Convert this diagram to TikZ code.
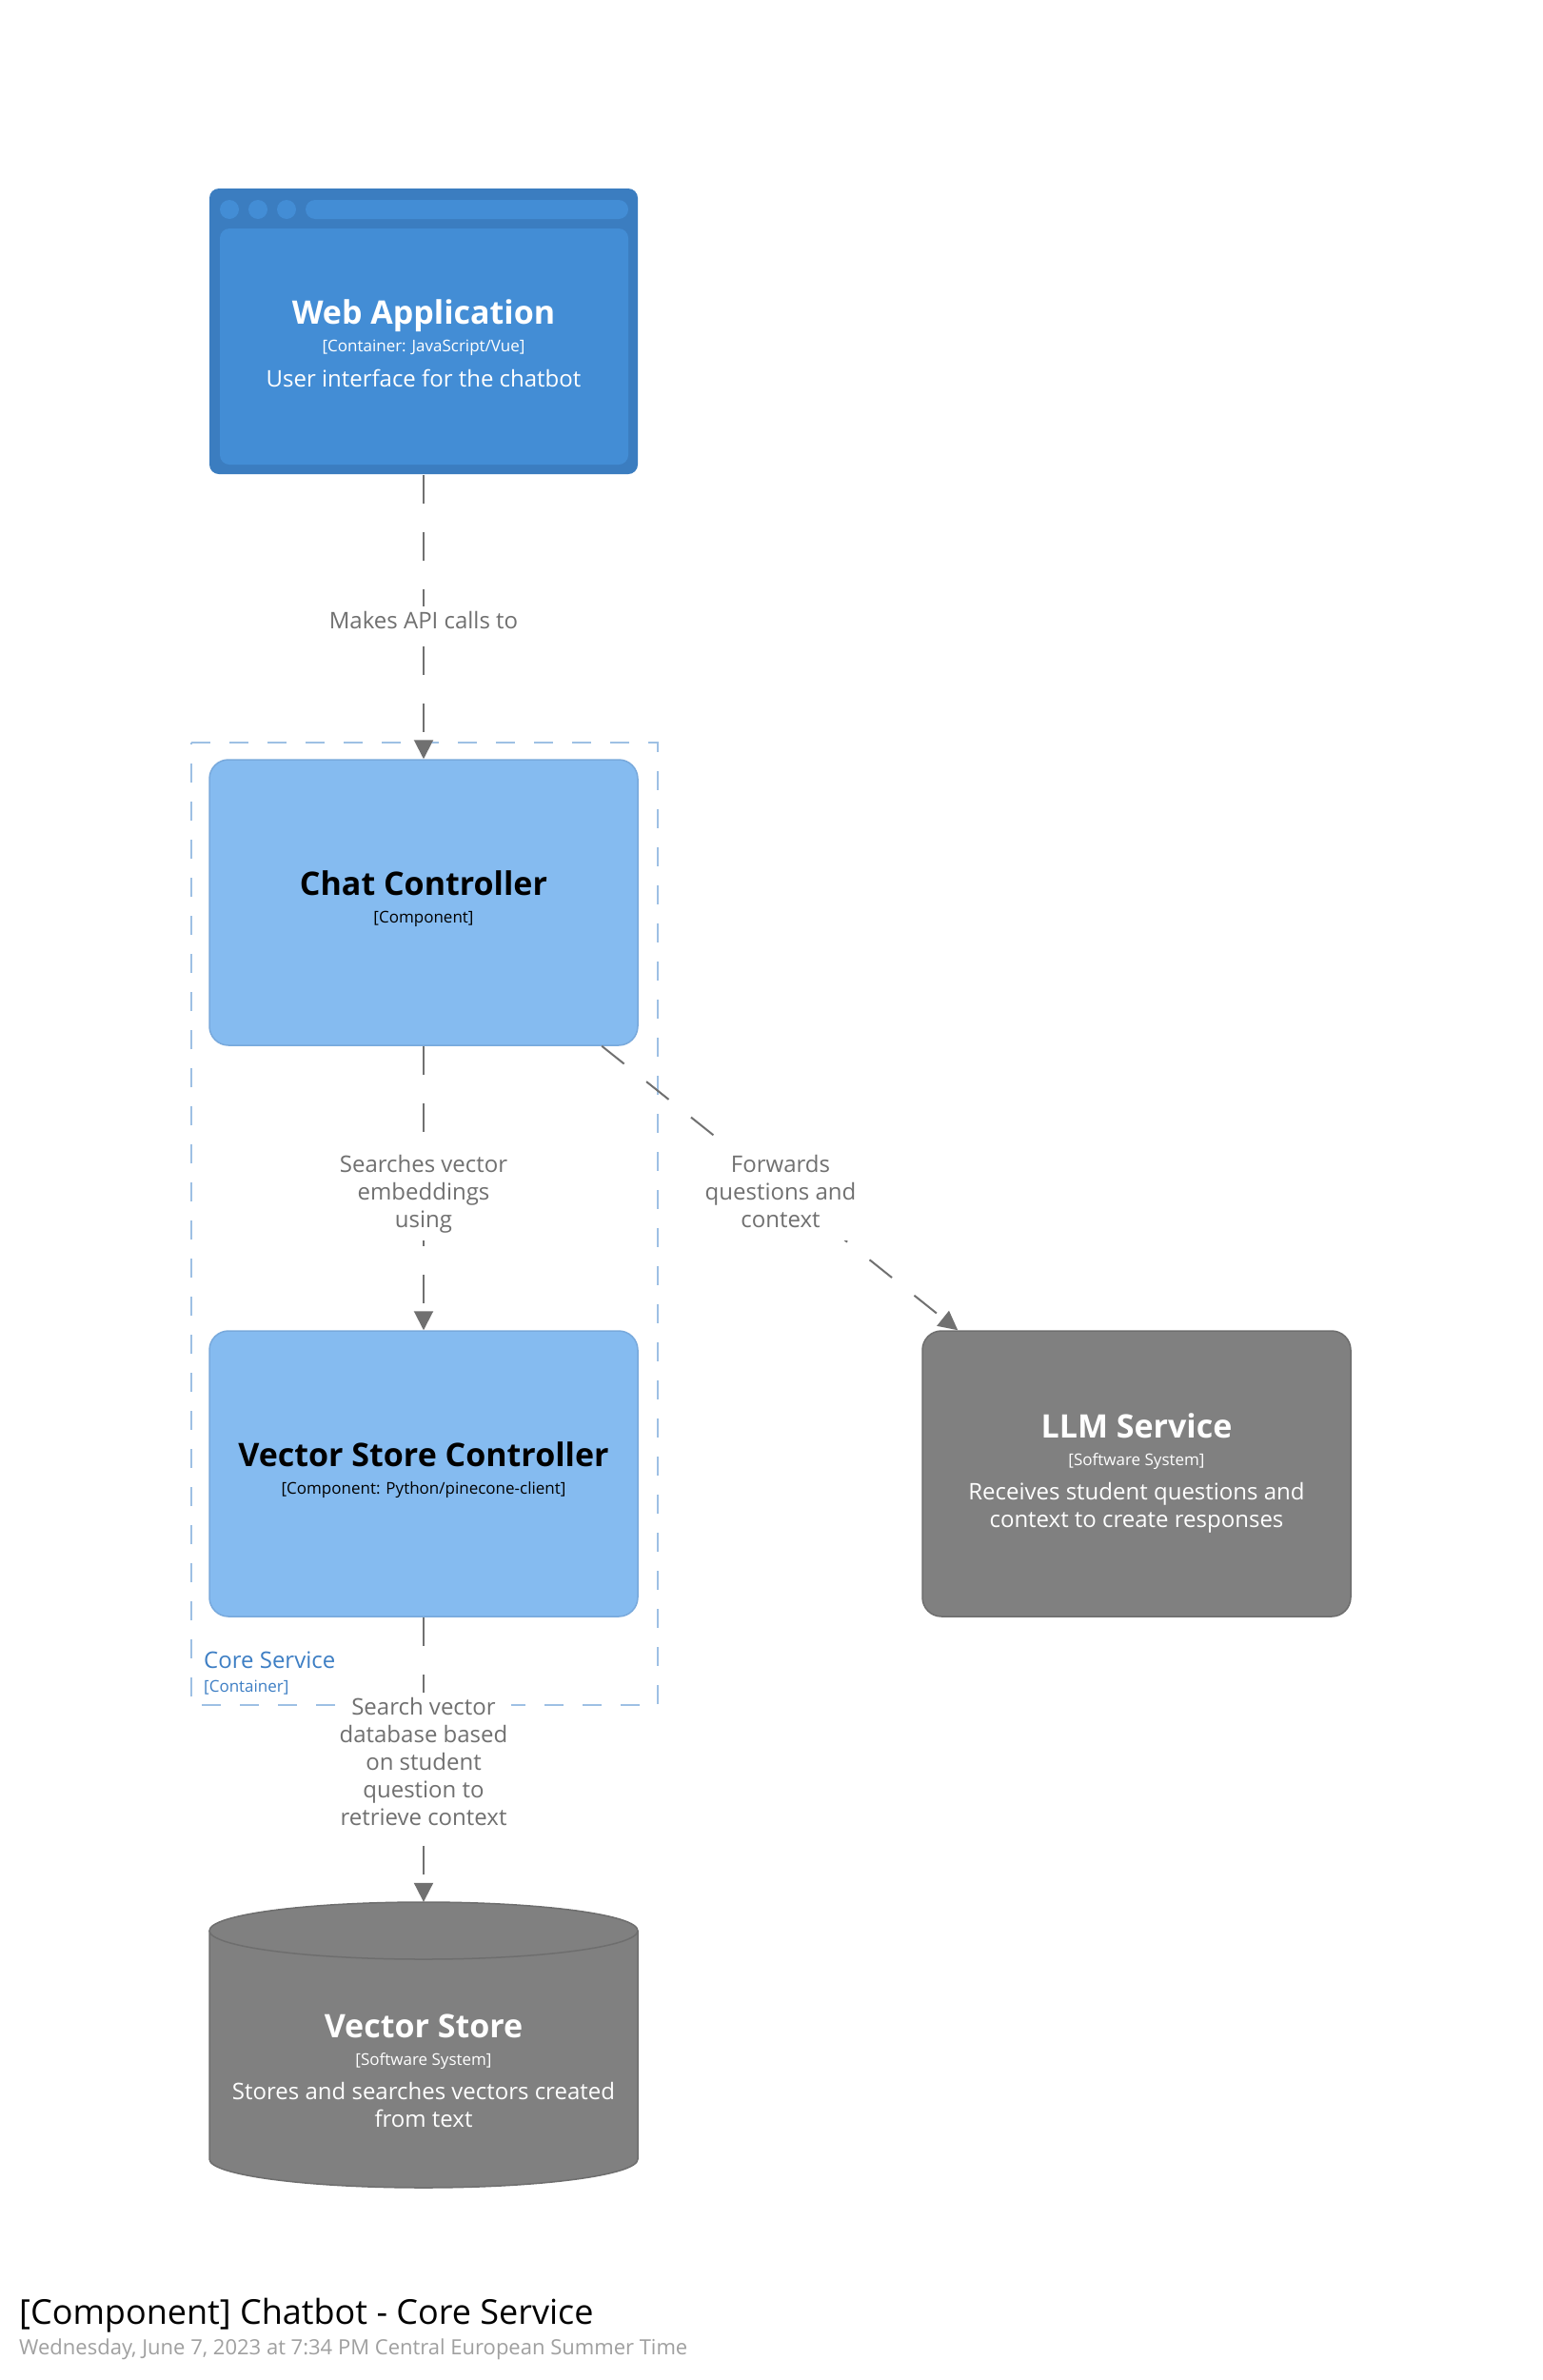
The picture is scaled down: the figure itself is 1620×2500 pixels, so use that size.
\documentclass[tikz,border=0pt]{standalone}
\usepackage{fontspec}
\setmainfont{Open Sans}
\usetikzlibrary{arrows.meta}
\definecolor{relgray}{HTML}{707070}
\definecolor{webouter}{HTML}{3B7DC0}
\definecolor{webinner}{HTML}{438DD5}
\definecolor{compfill}{HTML}{85BBF0}
\definecolor{compline}{HTML}{78A9DC}
\definecolor{sysfill}{HTML}{808080}
\definecolor{sysline}{HTML}{6E6E6E}
\definecolor{bndline}{HTML}{9EC0E4}
\definecolor{bndtext}{HTML}{3D7EC4}
\definecolor{datetext}{HTML}{A0A0A0}
\tikzset{
  elem/.style={minimum width=450pt, minimum height=300pt, inner sep=0pt, rounded corners=20pt, line width=1.5pt},
  ename/.style={anchor=base, inner sep=0pt, font=\fontsize{34}{40}\selectfont\bfseries},
  emeta/.style={anchor=base, inner sep=0pt, font=\fontsize{17}{20}\selectfont},
  edesc/.style={anchor=base, inner sep=0pt, font=\fontsize{24}{29}\selectfont},
  rel/.style={draw=relgray, line width=2pt, dash pattern=on 30pt off 30pt, -{Triangle[length=20pt,width=20pt,fill=relgray]}},
  rlabel/.style={fill=white, text=relgray, align=center, inner sep=4pt, font=\fontsize{24}{29}\selectfont},
  bnd/.style={draw=bndline, line width=2pt, dash pattern=on 20pt off 20pt},
}
\begin{document}
\begin{tikzpicture}[x=1pt, y=-1pt]
\useasboundingbox (0,0) rectangle (1620,2500);
\fill[white] (0,0) rectangle (1620,2500);

% boundary
\coordinate (bTL) at (201,780);
\coordinate (bTR) at (691,780);
\coordinate (bBR) at (691,1791);
\coordinate (bBL) at (201,1791);
\draw[bnd] (bTL) -- (bTR) -- (bBR) -- (bBL) -- cycle;
\node[anchor=base west, inner sep=0pt, text=bndtext, font=\fontsize{24}{29}\selectfont] (bname) at (214,1752) {Core Service};
\node[anchor=base west, inner sep=0pt, text=bndtext, font=\fontsize{17}{20}\selectfont] (bmeta) at (214,1777) {[Container]};

% web application (browser shape)
\node[elem, rounded corners=10pt, fill=webouter, draw=none] (web) at (445,348) {};
\fill[webinner, rounded corners=10pt] (231,240) rectangle (660,488);
\fill[webinner] (241,220) circle[radius=10pt];
\fill[webinner] (271,220) circle[radius=10pt];
\fill[webinner] (301,220) circle[radius=10pt];
\fill[webinner, rounded corners=10pt] (321,210) rectangle (660,230);
\node[ename, text=white] (webN) at (445,340) {Web Application};
\node[emeta, text=white] (webM) at (445,369) {[Container: JavaScript/Vue]};
\node[edesc, text=white] (webD) at (445,406) {User interface for the chatbot};

% chat controller
\node[elem, fill=compfill, draw=compline] (chat) at (445,948) {};
\node[ename, text=black] (chatN) at (445,940) {Chat Controller};
\node[emeta, text=black] (chatM) at (445,969) {[Component]};

% vector store controller
\node[elem, fill=compfill, draw=compline] (vsc) at (445,1548) {};
\node[ename, text=black] (vscN) at (445,1540) {Vector Store Controller};
\node[emeta, text=black] (vscM) at (445,1569) {[Component: Python/pinecone-client]};

% LLM service
\node[elem, fill=sysfill, draw=sysline] (llm) at (1194,1548) {};
\node[ename, text=white] (llmN) at (1194,1510) {LLM Service};
\node[emeta, text=white] (llmM) at (1194,1539) {[Software System]};
\node[edesc, text=white] (llmD1) at (1194,1575) {Receives student questions and};
\node[edesc, text=white] (llmD2) at (1194,1604) {context to create responses};

% vector store (cylinder)
\node[minimum width=450pt, minimum height=300pt, inner sep=0pt] (vs) at (445,2148) {};
\filldraw[fill=sysfill, draw=sysline, line width=1.5pt]
  (220,2028) -- (220,2268) arc[start angle=180, end angle=360, x radius=225pt, y radius=30pt]
  -- (670,2028) arc[start angle=0, end angle=180, x radius=225pt, y radius=30pt] -- cycle;
\draw[sysline, line width=1.5pt] (220,2028) arc[start angle=180, end angle=360, x radius=225pt, y radius=30pt];
\node[ename, text=white] (vsN) at (445,2140) {Vector Store};
\node[emeta, text=white] (vsM) at (445,2169) {[Software System]};
\node[edesc, text=white] (vsD1) at (445,2205) {Stores and searches vectors created};
\node[edesc, text=white] (vsD2) at (445,2234) {from text};

% relationships
\draw[rel] (web) -- (chat);
\draw[rel] (chat) -- (vsc);
\draw[rel] (chat) -- (llm);
\draw[rel] (vsc) -- (vs);

% relationship labels
\node[rlabel] (l1) at (445,655) {Makes API calls to\strut};
\node[rlabel] (l2) at (445,1255) {Searches vector\strut\\embeddings\strut\\using\strut};
\node[rlabel] (l3) at (820,1255) {Forwards\strut\\questions and\strut\\context\strut};
\node[rlabel] (l4) at (445,1854) {Search vector\strut\\database based\strut\\on student\strut\\question to\strut\\retrieve context\strut};

% title
\node[anchor=base west, inner sep=0pt, font=\fontsize{36}{43}\selectfont] (title) at (20,2441) {[Component] Chatbot - Core Service};
\node[anchor=base west, inner sep=0pt, text=datetext, font=\fontsize{22}{26}\selectfont] (date) at (20,2473) {Wednesday, June 7, 2023 at 7:34 PM Central European Summer Time};
\end{tikzpicture}
\end{document}
